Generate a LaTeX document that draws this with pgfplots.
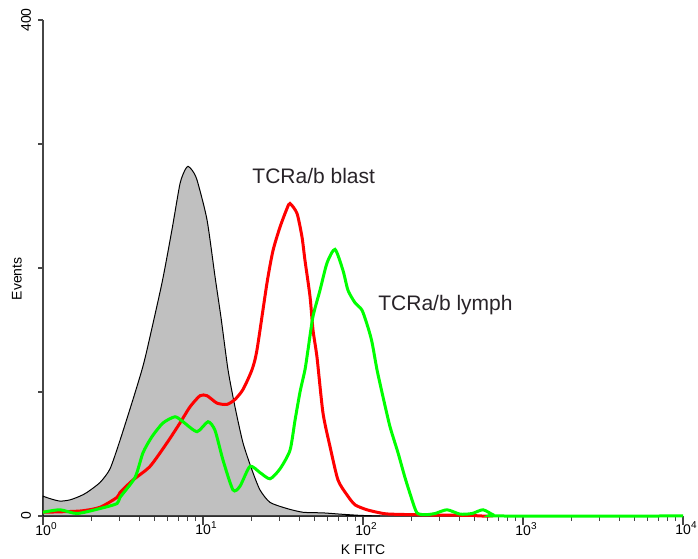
\documentclass[border=0pt]{standalone}
\usepackage{pgfplots}
\pgfplotsset{compat=1.18}
\usepackage{fontspec}
\setmainfont{Liberation Sans}
\definecolor{fcsRed}{RGB}{255,0,0}
\definecolor{fcsGreen}{RGB}{0,255,0}
\definecolor{fcsGray}{RGB}{192,192,192}
\definecolor{axGray}{RGB}{70,70,70}
\definecolor{annot}{RGB}{40,35,40}

\begin{document}
\begin{tikzpicture}
\begin{axis}[
  scale only axis,
  width=320pt, height=248pt,
  xmode=log,
  xmin=1, xmax=10000,
  ymin=0, ymax=400,
  axis x line*=bottom, axis y line*=left,
  axis line style={axGray, line width=1pt},
  tick align=outside,
  tick style={axGray, line width=0.6pt},
  major tick length=4.5pt, minor tick length=2.4pt,
  xtick={1,10,100,1000,10000},
  xticklabels={10\textsuperscript{0},10\textsuperscript{1},10\textsuperscript{2},10\textsuperscript{3},10\textsuperscript{4}},
  minor xtick={2,3,4,5,6,7,8,9,20,30,40,50,60,70,80,90,200,300,400,500,600,700,800,900,2000,3000,4000,5000,6000,7000,8000,9000},
  ytick={0,400},
  yticklabels={0,400},
  minor ytick={0,100,200,300,400},
  major y tick style={draw=none},
  xticklabel style={font=\fontsize{7}{8}\selectfont, xshift=1.75pt, yshift=5pt},
  yticklabel style={font=\fontsize{7}{8}\selectfont, rotate=90, anchor=south, yshift=-2pt},
  xlabel={K FITC},
  ylabel={Events},
  xlabel style={font=\fontsize{7}{8}\selectfont, at={(rel axis cs:0.5,0)}, anchor=center, yshift=-17pt},
  ylabel style={font=\fontsize{7}{8}\selectfont, at={(rel axis cs:0,0.478)}, anchor=center, yshift=13pt},
  clip=false,
]
% negative control (filled)
\addplot[fill=fcsGray, draw=black, line width=0.5pt, smooth, tension=0.4] coordinates {
  (1,16)(1.106,14)(1.277,12)(1.475,13)(1.703,16)(1.884,19)(2.271,27)
  (2.623,38)(3.029,61)(3.652,94)(4.157,118)(4.467,134)(5.543,188)
  (6.401,231)(7.182,268)(7.718,279)(8.058,282)(8.535,279)(9.173,271)
  (10.59,239)(11.89,193)(12.96,160)(14.33,118)(15.85,88)(17.78,59)
  (20.25,37)(22.71,21)(26.23,11)(33.50,6)(42.17,3)(56.23,2.5)
  (71.82,1.5)(95.78,0.5)(127.7,0)
} \closedcycle;
% TCRa/b blast
\addplot[fcsRed, line width=1.5pt, smooth, tension=0.4] coordinates {
  (1,3)(1.703,4)(2.271,7)(2.901,15)(3.029,19)(3.652,29)(4.665,40)
  (5.957,59)(7.182,75)(8.293,88)(9.578,97)(10.59,97)(12.24,91)
  (14.13,90)(15.85,94)(17.78,102)(20.25,118)(21.75,134)(25.12,188)
  (27.38,214)(30.29,233)(33.50,248)(34.98,252)(38.69,244)(41.57,225)
  (43.40,206)(46.65,177)(48.70,150)(51.58,128)(56.23,83)(62.21,56)
  (69.78,29)(79.43,17)(89.13,9)(105.9,5)(127.7,2.5)(147.5,1.5)
  (262.3,0.8)(466.5,0.5)(538.6,0)(650,0)
};
% TCRa/b lymph
\addplot[fcsGreen, line width=1.5pt, smooth, tension=0.4] coordinates {
  (1,3)(1.277,5)(1.631,2)(2.271,6)(2.901,10)(3.029,15)(3.758,31)
  (4.217,51)(4.800,64)(5.623,75)(6.683,80)(7.499,76)(9.173,68)
  (10.75,76)(11.89,69)(13.34,45)(15.40,21)(17.03,24)(19.67,40)
  (22.71,35)(26.23,30)(30.29,38)(34.98,53)(37.58,77)(40.40,100)
  (43.40,118)(45.32,134)(48.70,161)(53.85,182)(59.57,204)(66.83,215)
  (74.99,198)(80.58,182)(89.13,172)(98.57,166)(107.5,152)(113.9,140)
  (122.3,118)(133.4,96)(147.5,72)(165.5,51)(183.0,31)(202.5,13)
  (217.5,2.5)(244.1,1)(281.8,2)(335.0,5)(403.9,1.5)(480.1,2)
  (562.3,5)(649.4,1)(718.2,0)(10000,0)
};
\node[anchor=base west, inner sep=0pt, text=annot, font=\fontsize{10.5}{12}\selectfont]
  at (axis cs:20.25,268.5) {TCRa/b blast};
\node[anchor=base west, inner sep=0pt, text=annot, font=\fontsize{10.5}{12}\selectfont]
  at (axis cs:124.1,166) {TCRa/b lymph};
\coordinate (ll) at (rel axis cs:0,0);
\coordinate (ur) at (rel axis cs:1,1);
\end{axis}
\pgfresetboundingbox
\path[use as bounding box] ([shift={(-21.5pt,-21.5pt)}]ll) rectangle ([shift={(7.5pt,10pt)}]ur);
\end{tikzpicture}
\end{document}
